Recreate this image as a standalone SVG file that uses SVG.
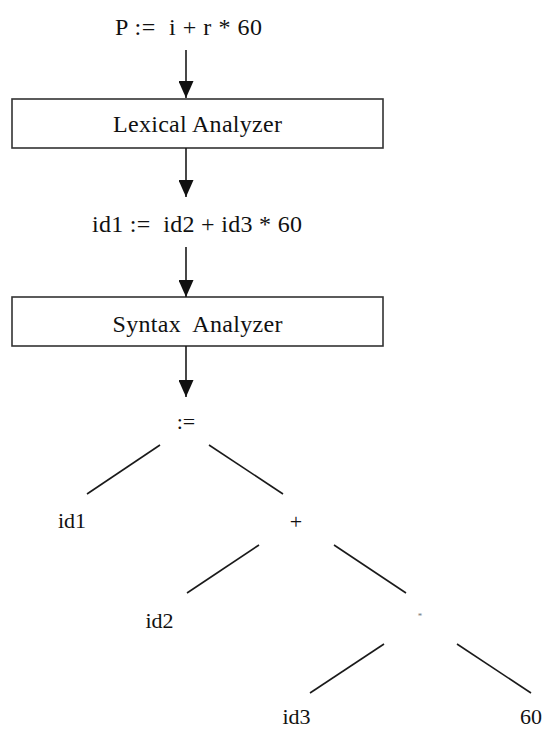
<svg xmlns="http://www.w3.org/2000/svg" width="545" height="730" viewBox="0 0 545 730">
<defs>
<style>
.t{font-family:"Liberation Serif","Times New Roman",serif;font-size:24px;fill:#111;text-anchor:middle}
.s{font-size:22px}
.box{fill:#fff;stroke:#333;stroke-width:1.6}
.ln{stroke:#1a1a1a;stroke-width:1.6;fill:none}
</style>
<marker id="ah" markerWidth="17" markerHeight="15" refX="17" refY="7.5" orient="auto" markerUnits="userSpaceOnUse">
<path d="M0,0 L17,7.5 L0,15 Z" fill="#111"/>
</marker>
</defs>
<rect width="545" height="730" fill="#fff"/>
<g id="source"><text class="t" x="188.5" y="35" xml:space="preserve" textLength="147">P :=  i + r * 60</text></g>
<g id="lexical"><rect class="box" x="12" y="99" width="371" height="49"/><text class="t" x="197.5" y="132" textLength="169">Lexical Analyzer</text></g>
<g id="tokens"><text class="t" x="197" y="232" xml:space="preserve" textLength="210">id1 :=  id2 + id3 * 60</text></g>
<g id="syntax"><rect class="box" x="12" y="297" width="371" height="49"/><text class="t" x="197.5" y="332" xml:space="preserve" textLength="170">Syntax  Analyzer</text></g>
<g id="n-assign"><text class="t s" x="186" y="429">:=</text></g>
<g id="n-id1"><text class="t s" x="72" y="528">id1</text></g>
<g id="n-plus"><text class="t s" x="296" y="529">+</text></g>
<g id="n-id2"><text class="t s" x="159.5" y="628">id2</text></g>
<g id="n-mul"><text class="t" x="420" y="619" style="font-size:9px;fill:#777">*</text></g>
<g id="n-id3"><text class="t s" x="296.5" y="724">id3</text></g>
<g id="n-60"><text class="t s" x="531" y="724">60</text></g>
<g id="connectors">
<line class="ln" x1="186" y1="50" x2="186" y2="98" marker-end="url(#ah)"/>
<line class="ln" x1="186" y1="148" x2="186" y2="197" marker-end="url(#ah)"/>
<line class="ln" x1="186" y1="247" x2="186" y2="297" marker-end="url(#ah)"/>
<line class="ln" x1="186" y1="346" x2="186" y2="397" marker-end="url(#ah)"/>
<line class="ln" x1="160" y1="445" x2="87" y2="494"/>
<line class="ln" x1="209" y1="445" x2="283" y2="494"/>
<line class="ln" x1="259" y1="545" x2="187" y2="593"/>
<line class="ln" x1="334" y1="545" x2="406" y2="593"/>
<line class="ln" x1="384" y1="644" x2="310" y2="693"/>
<line class="ln" x1="457" y1="644" x2="531" y2="693"/>
</g>
</svg>
